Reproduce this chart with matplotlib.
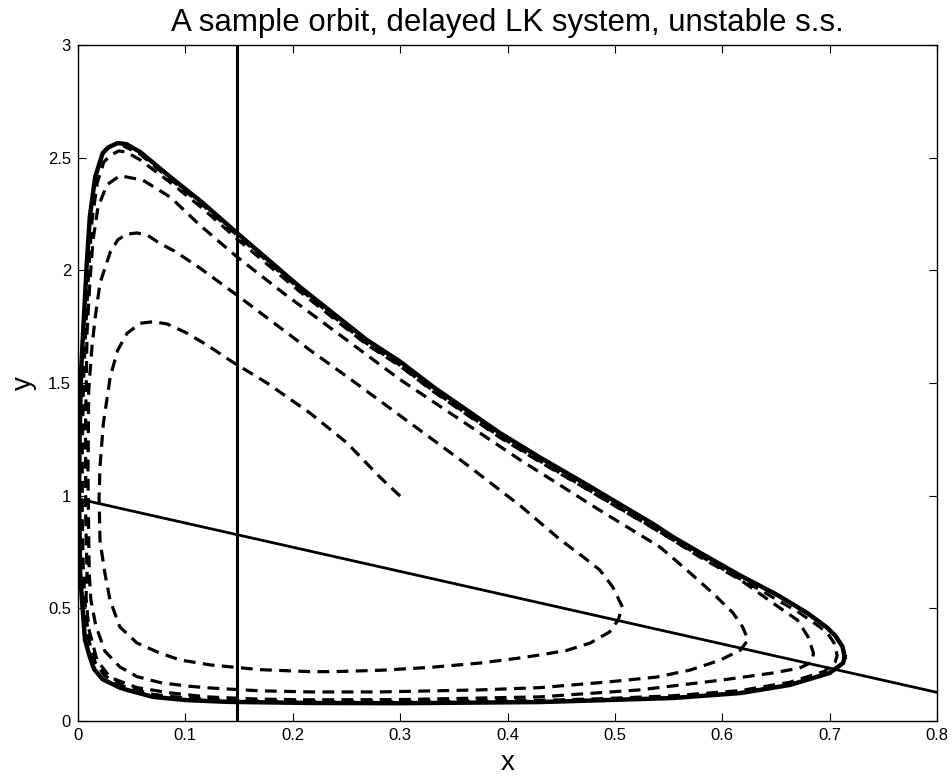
import matplotlib
matplotlib.use('Agg')
import matplotlib.pyplot as plt

# ---- data ----
# dashed sample orbit (spirals outward from (0.3, 1.0))
orbit_x = [0.300, 0.281, 0.2505, 0.216, 0.176, 0.144, 0.120, 0.100, 0.083, 0.070, 0.058, 0.0456, 0.037,
           0.030, 0.0236, 0.0205, 0.0196, 0.0205, 0.025, 0.0298, 0.039, 0.055, 0.076, 0.095, 0.123,
           0.169, 0.216, 0.238, 0.281, 0.328, 0.374, 0.412, 0.430, 0.455, 0.477, 0.495, 0.503, 0.507,
           0.498, 0.486, 0.470, 0.449, 0.433, 0.412, 0.360, 0.300, 0.250, 0.216, 0.180, 0.148, 0.1136,
           0.090, 0.076, 0.065, 0.055, 0.045, 0.037, 0.030, 0.0205, 0.016, 0.013, 0.010, 0.0093, 0.010,
           0.0105, 0.012, 0.0165, 0.025, 0.039, 0.055, 0.076, 0.1015, 0.125, 0.169, 0.216, 0.281, 0.374,
           0.430, 0.493, 0.539, 0.570, 0.598, 0.617, 0.624, 0.619, 0.610, 0.591, 0.567, 0.542, 0.486,
           0.412, 0.300, 0.191, 0.148, 0.1136, 0.086, 0.0605, 0.039, 0.027, 0.0186, 0.014, 0.011, 0.0084,
           0.007, 0.0072, 0.0084, 0.0075, 0.010, 0.0177, 0.030, 0.055, 0.0857, 0.120, 0.169, 0.216, 0.300,
           0.430, 0.523, 0.600, 0.647, 0.672, 0.683, 0.685,
           0.680, 0.670, 0.647, 0.617, 0.579, 0.539, 0.500, 0.470, 0.430, 0.393, 0.331, 0.300, 0.269,
           0.2067, 0.148, 0.116, 0.086, 0.058, 0.045, 0.038, 0.030, 0.024, 0.018, 0.013, 0.010, 0.007,
           0.005, 0.004, 0.004, 0.005, 0.007, 0.010, 0.016, 0.025, 0.042, 0.070, 0.100, 0.139, 0.216,
           0.300, 0.430, 0.493, 0.554, 0.617, 0.663, 0.695, 0.705, 0.707,
           0.705, 0.698, 0.690, 0.672, 0.645, 0.612, 0.575, 0.550, 0.530, 0.497, 0.467, 0.428, 0.391,
           0.329, 0.298, 0.267, 0.2067, 0.148, 0.116, 0.086, 0.058, 0.042]
orbit_y = [0.998, 1.083, 1.234, 1.367, 1.500, 1.593, 1.669, 1.725, 1.762, 1.772, 1.765, 1.720, 1.646,
           1.527, 1.320, 1.130, 0.994, 0.800, 0.657, 0.537, 0.417, 0.346, 0.302, 0.271, 0.249,
           0.228, 0.219, 0.219, 0.225, 0.238, 0.257, 0.280, 0.293, 0.313, 0.346, 0.395, 0.448, 0.506,
           0.595, 0.670, 0.730, 0.805, 0.870, 0.955, 1.145, 1.355, 1.530, 1.646, 1.775, 1.890, 2.010,
           2.085, 2.120, 2.155, 2.166, 2.160, 2.135, 2.080, 1.944, 1.790, 1.660, 1.470, 1.100, 0.800,
           0.650, 0.537, 0.425, 0.310, 0.240, 0.197, 0.171, 0.155, 0.146, 0.134, 0.129, 0.129, 0.138,
           0.148, 0.173, 0.195, 0.226, 0.270, 0.315, 0.360, 0.417, 0.480, 0.568, 0.670, 0.772, 0.935,
           1.158, 1.515, 1.900, 2.060, 2.200, 2.325, 2.400, 2.420, 2.380, 2.280, 2.135, 1.944, 1.720,
           1.300, 0.900, 0.657, 0.550, 0.410, 0.270, 0.193, 0.148, 0.125, 0.107, 0.097, 0.094, 0.095,
           0.107, 0.138, 0.182, 0.213, 0.235, 0.260, 0.300,
           0.373, 0.448, 0.524, 0.626, 0.728, 0.848, 0.955, 1.040, 1.150, 1.258, 1.462, 1.575, 1.670,
           1.905, 2.140, 2.275, 2.390, 2.490, 2.525, 2.530, 2.510, 2.480, 2.390, 2.220, 2.000, 1.720,
           1.500, 1.200, 0.900, 0.657, 0.500, 0.360, 0.260, 0.200, 0.155, 0.118, 0.102, 0.092, 0.087,
           0.086, 0.091, 0.100, 0.112, 0.135, 0.172, 0.220, 0.260, 0.290,
           0.340, 0.390, 0.420, 0.480, 0.555, 0.643, 0.745, 0.815, 0.872, 0.965, 1.050, 1.160, 1.268,
           1.472, 1.585, 1.681, 1.916, 2.156, 2.290, 2.404, 2.515, 2.553]

# solid limit cycle
cycle_x = [0.714, 0.712, 0.705, 0.697, 0.679, 0.651, 0.617, 0.580, 0.554, 0.5355, 0.500, 0.470, 0.430,
           0.393, 0.331, 0.300, 0.269, 0.2067, 0.148, 0.116, 0.086, 0.058, 0.045, 0.037, 0.028, 0.023,
           0.016, 0.011, 0.008, 0.0047, 0.0028, 0.0015, 0.001, 0.002, 0.0037, 0.0065, 0.011, 0.015,
           0.023, 0.039, 0.0456, 0.070, 0.100, 0.139, 0.216, 0.300, 0.430, 0.493, 0.554, 0.617, 0.663,
           0.700, 0.7125, 0.714]
cycle_y = [0.284, 0.330, 0.380, 0.417, 0.480, 0.560, 0.645, 0.745, 0.817, 0.875, 0.975, 1.060, 1.170,
           1.278, 1.482, 1.595, 1.691, 1.926, 2.166, 2.300, 2.414, 2.525, 2.560, 2.565, 2.545, 2.520,
           2.414, 2.237, 2.015, 1.720, 1.544, 1.250, 1.000, 0.657, 0.537, 0.360, 0.284, 0.230,
           0.185, 0.148, 0.138, 0.107, 0.093, 0.085, 0.080, 0.079, 0.084, 0.093, 0.102, 0.124, 0.160,
           0.213, 0.257, 0.284]

# straight line and vertical line
line_x = [0.0, 0.8]
line_y = [0.986, 0.127]
vline_x = [0.148, 0.148]
vline_y = [0.0, 3.0]

xticks = [0, 0.1, 0.2, 0.3, 0.4, 0.5, 0.6, 0.7, 0.8]
xtick_labels = ['0', '0.1', '0.2', '0.3', '0.4', '0.5', '0.6', '0.7', '0.8']
yticks = [0, 0.5, 1, 1.5, 2, 2.5, 3]
ytick_labels = ['0', '0.5', '1', '1.5', '2', '2.5', '3']

title = 'A sample orbit, delayed LK system, unstable s.s.'

# ---- figure ----
plt.rcParams['font.family'] = ['Liberation Sans', 'DejaVu Sans']
fig = plt.figure(figsize=(9.53, 7.82), dpi=100)
W, H = 953, 782
ax = fig.add_axes([78 / W, 1 - 721 / H, (937 - 78) / W, (721 - 45) / H])

ax.plot(orbit_x, orbit_y, color='k', lw=2.3, linestyle=(0, (3.7, 2.3)),
        solid_joinstyle='round')
ax.plot(cycle_x, cycle_y, color='k', lw=3.2, solid_joinstyle='round')
ax.plot(line_x, line_y, color='k', lw=2.0)
ax.plot(vline_x, vline_y, color='k', lw=2.2)

ax.set_xlim(0, 0.8)
ax.set_ylim(0, 3)
ax.set_xticks(xticks)
ax.set_xticklabels(xtick_labels)
ax.set_yticks(yticks)
ax.set_yticklabels(ytick_labels)
ax.tick_params(direction='in', top=True, right=True, length=6, width=0.8,
               labelsize=12, pad=5)
for s in ax.spines.values():
    s.set_linewidth(1.0)

ax.set_title(title, fontsize=22.5, pad=10)
ax.set_xlabel('x', fontsize=20, labelpad=5)
ax.set_ylabel('y', fontsize=20, labelpad=8)

fig.savefig('out.png', dpi=100)
